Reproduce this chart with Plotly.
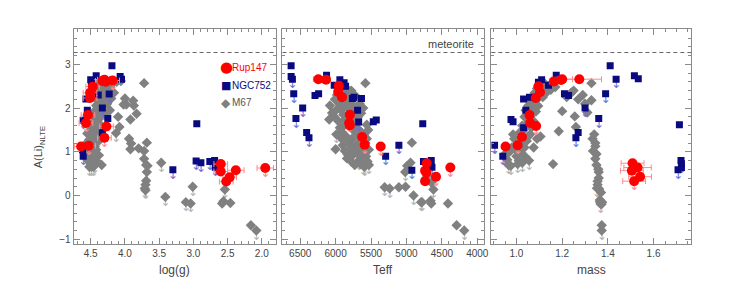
import plotly.graph_objects as go
from plotly.subplots import make_subplots

METEORITE = 3.27
Y_RANGE = [-1.11, 3.81]
X_RANGES = [[4.75, 1.80], [6750, 3900], [0.89, 1.765]]
X_TITLES = ["log(g)", "Teff", "mass"]
X_DTICK = [0.5, 500, 0.2]
X_MINOR = [0.1, 100, 0.05]
X_FMT = [".1f", "d", ".1f"]
Y_TITLE = "A(Li)<sub>NLTE</sub>"

# ---------------- Panel 1 : log(g) ----------------
RUP_G_X = [4.64, 4.53, 4.57, 4.54, 4.51, 4.51, 4.47, 4.33, 4.30, 4.28, 4.18, 4.27, 4.30,
           2.60, 2.60, 2.52, 2.47, 2.38, 1.95]
RUP_G_Y = [1.12, 1.14, 1.66, 1.84, 2.23, 2.35, 2.49, 2.62, 2.65, 2.60, 2.63, 1.58, 1.32,
           0.72, 0.55, 0.32, 0.42, 0.58, 0.63]
RUP_G_UL = [0, 1, 1, 0, 0, 0, 0, 0, 0, 0, 1, 0, 1,
            0, 0, 0, 0, 0, 1]
RUP_G_ERR = [0.10, 0.10, 0.10, 0.10, 0.10, 0.10, 0.10, 0.10, 0.10, 0.10, 0.10, 0.10, 0.10,
             0.10, 0.10, 0.10, 0.10, 0.12, 0.12]

NGC_G_X = [4.19, 4.42, 4.50, 4.49, 4.07, 4.05, 4.57, 4.55, 4.61, 4.61, 4.39, 4.23, 4.33,
           4.25, 4.33, 4.62, 2.95, 2.96, 2.89, 3.30, 2.76, 2.69, 2.68]
NGC_G_Y = [2.97, 2.74, 2.65, 2.57, 2.72, 2.66, 2.21, 1.95, 1.72, 0.90, 2.30, 2.32, 2.00,
           1.76, 1.44, 1.05, 1.64, 0.79, 0.75, 0.59, 0.78, 0.80, 0.65]
NGC_G_UL = [0, 0, 0, 1, 0, 0, 0, 0, 1, 1, 0, 1, 1,
            0, 1, 1, 0, 1, 1, 1, 1, 0, 1]

M67_G_X = [4.52, 4.49, 4.46, 4.50, 4.47, 4.52, 4.45, 4.49, 4.46, 4.53, 4.48, 4.44, 4.50,
           4.46, 4.52, 4.42, 4.48, 4.55, 4.45, 4.50, 4.41, 4.47, 4.53, 4.43, 4.38, 4.46,
           4.40, 4.35, 4.44, 4.38, 4.32, 4.42, 4.36, 4.30, 4.40, 4.34, 4.27, 4.37, 4.31,
           4.24, 4.34, 4.28, 4.21, 4.31, 4.25, 4.18, 4.12, 4.06, 4.22, 4.28, 4.40, 4.44,
           4.48, 4.26, 4.20, 4.16, 4.22, 4.28, 4.36, 4.40, 4.38, 4.42, 4.38, 4.42, 4.34,
           4.55, 4.56, 4.58, 4.44, 4.36, 4.10, 4.08, 4.13, 4.02,
           3.72, 3.88, 3.98, 4.00, 3.87, 3.83, 3.92, 3.94, 3.91, 3.92, 3.80, 3.68, 3.72,
           3.72, 3.69, 3.67, 3.68, 3.69, 3.70, 3.71, 3.70, 3.47, 3.41, 3.11, 3.04, 3.01,
           2.54, 2.56, 2.58, 2.46, 2.16, 2.08]
M67_G_Y = [0.66, 0.66, 0.66, 0.72, 0.78, 0.84, 0.88, 0.93, 1.00, 1.03, 1.08, 1.12, 1.18,
           1.24, 1.28, 1.33, 1.38, 1.42, 1.46, 1.52, 1.56, 1.62, 1.66, 1.70, 1.75, 1.80,
           1.86, 1.90, 1.94, 1.98, 2.03, 2.06, 2.10, 2.14, 2.18, 2.22, 2.25, 2.30, 2.34,
           2.37, 2.42, 2.46, 2.48, 2.52, 2.55, 2.57, 2.60, 2.62, 2.62, 2.60, 2.55, 2.40,
           2.25, 2.10, 2.22, 2.35, 1.95, 1.82, 1.62, 1.45, 1.25, 1.05, 0.92, 0.80, 0.70,
           0.82, 1.20, 0.95, 0.72, 1.42, 1.80, 1.57, 1.43, 2.08,
           2.57, 2.17, 2.08, 2.22, 2.06, 1.87, 1.74, 1.30, 1.19, 1.06, 1.08, 1.21, 1.02,
           0.84, 0.70, 0.68, 0.54, 0.34, 0.25, 0.16, 0.12, 0.75, -0.03, -0.15, -0.18, 0.20,
           0.14, -0.13, -0.18, -0.17, -0.68, -0.80]
M67_G_UL = [1, 1, 1, 0, 0, 0, 0, 0, 0, 0, 0, 0, 0,
            0, 0, 0, 0, 0, 0, 0, 0, 0, 0, 0, 0, 0,
            0, 0, 0, 0, 0, 0, 0, 0, 0, 0, 0, 0, 0,
            0, 0, 0, 0, 0, 0, 0, 0, 0, 0, 0, 0, 0,
            0, 0, 0, 0, 0, 0, 0, 0, 0, 0, 0, 0, 0,
            0, 0, 0, 1, 1, 0, 0, 1, 0,
            0, 0, 0, 0, 0, 0, 0, 0, 0, 0, 0, 0, 0,
            0, 0, 1, 1, 0, 1, 1, 1, 1, 1, 1, 1, 1,
            1, 0, 0, 0, 0, 1]

# ---------------- Panel 2 : Teff ----------------
RUP_T_X = [6244, 6136, 5954, 5964, 5910, 5799, 5808, 5799, 5626, 5590, 5364,
           4714, 4737, 4718, 4737, 4583, 4381]
RUP_T_Y = [2.66, 2.65, 2.51, 2.37, 2.25, 1.85, 1.66, 1.60, 1.34, 1.16, 1.12,
           0.74, 0.57, 0.53, 0.33, 0.43, 0.64]
RUP_T_UL = [0, 0, 0, 0, 0, 0, 1, 0, 0, 1, 1,
            0, 0, 0, 0, 1, 1]
RUP_T_ERR = [70, 60, 40, 40, 40, 40, 40, 40, 40, 40, 40,
             40, 40, 40, 40, 40, 40]

NGC_T_X = [6628, 6628, 6610, 6591, 6465, 6560, 6409, 6376, 6291, 6240, 6128, 5940, 6020,
           5880, 5860, 5763, 5740, 5635, 5690, 5675, 5468, 5426, 5107, 5294, 4924, 4770,
           4760, 4650, 4640]
NGC_T_Y = [2.97, 2.72, 2.66, 2.33, 2.00, 1.76, 1.44, 1.32, 2.29, 2.33, 2.75, 2.65, 2.52,
           2.58, 2.50, 2.22, 2.25, 2.22, 1.95, 1.68, 1.69, 1.73, 1.15, 0.90, 0.58, 1.64,
           0.78, 0.80, 0.65]
NGC_T_UL = [0, 0, 1, 1, 1, 1, 0, 1, 0, 0, 0, 0, 0,
            0, 1, 0, 0, 0, 0, 1, 0, 0, 1, 1, 1, 0,
            0, 0, 1]

M67_T_X = [6090, 6080, 6050, 6020, 6000, 5990, 5920, 5830, 5730, 5610, 5590, 5530, 5580,
           5610, 5960, 5930, 5900, 5880, 5860, 5840, 5820, 5800, 5780, 5760, 5900, 5870,
           5850, 5830, 5810, 5790, 5770, 5750, 5730, 5710, 5690, 5950, 5920, 5890, 5860,
           5830, 5800, 5780, 5760, 5740, 5720, 5700, 5680, 5660, 5640, 5620, 5600, 5580,
           5560, 5960, 5940, 5910, 5880, 5850, 5820, 5790, 5770, 5750, 5720, 5700, 5680,
           5660, 5640, 5620, 5600, 5570, 5550, 5530, 5900, 5870, 5840, 5810, 5780, 5760,
           5650, 5670, 5700, 5980, 6010, 5995, 5720, 5660, 5640, 5560, 5540,
           5308, 5237, 5107, 5018, 4990, 4943, 4924, 4900, 5013, 4794, 4780, 4710, 4650,
           4620, 4660, 4650, 4414, 4292, 4185]
M67_T_Y = [1.74, 2.06, 1.89, 1.81, 1.06, 1.40, 1.31, 0.94, 0.70, 0.68, 0.66, 0.70, 2.57,
           2.00, 2.48, 2.42, 2.50, 2.38, 2.30, 2.44, 2.35, 2.26, 2.40, 2.18, 2.20, 2.12,
           2.05, 2.15, 1.98, 2.08, 1.92, 2.02, 1.85, 1.95, 1.78, 2.10, 1.95, 1.85, 1.75,
           1.65, 1.80, 1.55, 1.70, 1.48, 1.60, 1.42, 1.52, 1.35, 1.45, 1.28, 1.38, 1.20,
           1.30, 1.70, 1.55, 1.45, 1.60, 1.35, 1.25, 1.15, 1.30, 1.10, 1.00, 1.18, 0.95,
           1.08, 0.88, 1.00, 0.82, 0.90, 0.78, 1.05, 1.15, 1.02, 0.85, 1.05, 0.78, 0.92,
           0.72, 0.80, 0.75, 2.30, 2.20, 1.95, 2.28, 2.10, 1.88, 1.62, 1.50,
           0.19, 0.16, 0.19, 0.54, 0.68, 0.75, 1.21, 0.00, 0.20, -0.15, -0.15, 0.45, 0.30,
           0.14, -0.12, -0.18, -0.18, -0.68, -0.80]
M67_T_UL = [0, 0, 0, 0, 0, 1, 0, 0, 0, 1, 1, 1, 0,
            0, 0, 0, 0, 0, 0, 0, 0, 0, 0, 0, 0, 0,
            0, 0, 0, 0, 0, 0, 0, 0, 0, 0, 0, 0, 0,
            0, 0, 0, 0, 0, 0, 0, 0, 0, 0, 0, 0, 0,
            0, 0, 0, 0, 0, 0, 0, 0, 0, 0, 0, 0, 0,
            0, 0, 0, 0, 0, 0, 0, 0, 0, 0, 0, 0, 0,
            0, 1, 0, 0, 0, 0, 0, 0, 0, 0, 0,
            1, 1, 0, 1, 0, 0, 0, 1, 0, 1, 1, 0, 0,
            1, 0, 0, 0, 0, 1]

# ---------------- Panel 3 : mass ----------------
RUP_M_X = [0.952, 1.005, 1.024, 1.057, 1.060, 1.086, 1.084, 1.096, 1.103, 1.164, 1.200,
           1.195, 1.275, 1.508, 1.505, 1.530, 1.541, 1.515]
RUP_M_Y = [1.12, 1.15, 1.34, 1.84, 1.66, 1.59, 2.23, 2.50, 2.36, 2.61, 2.66,
           2.64, 2.66, 0.74, 0.57, 0.64, 0.43, 0.33]
RUP_M_UL = [0, 1, 0, 0, 0, 1, 0, 0, 0, 0, 0,
            0, 0, 0, 0, 0, 0, 1]
RUP_M_ERR = [0.012, 0.012, 0.012, 0.012, 0.012, 0.012, 0.012, 0.012, 0.012, 0.02, 0.045,
             0.02, 0.097, 0.05, 0.05, 0.06, 0.05, 0.05]

NGC_M_X = [0.904, 0.940, 0.976, 0.985, 1.031, 1.041, 1.031, 1.057, 1.096, 1.110, 1.140,
           1.174, 1.210, 1.228, 1.300, 1.270, 1.260, 1.360, 1.390, 1.410, 1.436, 1.516,
           1.533, 1.713, 1.720, 1.722, 1.707, 1.722]
NGC_M_Y = [1.15, 0.90, 1.74, 1.69, 2.21, 1.95, 1.55, 2.25, 2.59, 2.65, 2.52,
           2.75, 2.33, 2.29, 2.00, 1.44, 1.32, 1.76, 2.33, 2.97, 2.66, 2.74,
           2.67, 1.62, 0.80, 0.73, 0.59, 0.64]
NGC_M_UL = [1, 1, 0, 0, 0, 0, 1, 0, 0, 0, 0,
            0, 0, 0, 1, 0, 1, 1, 1, 0, 1, 0,
            0, 0, 0, 1, 1, 0]

M67_M_X = [0.950, 0.960, 0.965, 0.975, 0.985, 0.990, 0.995, 1.000, 1.005, 1.010, 1.015,
           1.020, 1.025, 1.030, 1.035, 1.040, 1.045, 1.050, 1.055, 1.060, 1.065, 1.070,
           1.075, 1.080, 1.085, 1.090, 1.095, 1.100, 1.105, 1.110, 1.115, 1.120, 1.130,
           1.140, 1.150, 1.160, 1.170, 1.090, 1.070, 1.060, 1.050, 1.040, 1.080, 1.100,
           1.120, 1.035, 1.025, 1.015, 1.000, 0.980, 0.970, 1.045, 1.060, 1.075, 1.090,
           1.200, 1.255, 1.260, 1.185, 1.160, 1.240, 1.220, 1.270, 1.250, 1.290, 1.300,
           1.328, 1.328, 1.310,
           1.333, 1.345, 1.335, 1.345, 1.350, 1.360, 1.355, 1.355, 1.352, 1.362, 1.370,
           1.365, 1.375, 1.368, 1.373, 1.373, 1.340, 1.345, 1.350, 1.358, 1.360, 1.365,
           1.372]
M67_M_Y = [0.95, 0.82, 0.70, 0.68, 1.40, 1.30, 1.05, 0.90, 0.72, 0.80, 1.20,
           0.98, 0.75, 1.50, 1.10, 0.88, 1.65, 1.35, 0.80, 1.80, 1.55, 2.00,
           1.70, 2.10, 1.92, 2.20, 2.05, 2.30, 1.35, 2.40, 2.25, 2.45, 2.35,
           2.50, 2.42, 2.55, 2.48, 2.45, 2.25, 2.15, 2.05, 1.95, 2.35, 2.50,
           2.58, 1.80, 1.60, 1.45, 1.25, 1.10, 1.00, 1.25, 1.40, 1.10, 1.30,
           1.93, 1.81, 1.57, 1.47, 0.72, 2.35, 2.25, 2.20, 2.40, 2.30, 2.10,
           2.57, 2.18, 1.90,
           1.30, 1.13, 1.02, 0.84, 0.70, 0.54, 0.33, 0.25, 0.17, 0.15, 0.07,
           -0.14, -0.15, -0.19, -0.68, -0.80, 1.40, 1.20, 0.95, 0.60, 0.40, -0.10,
           -0.20]
M67_M_UL = [0, 0, 1, 1, 0, 0, 0, 0, 1, 0, 0,
            0, 1, 0, 0, 0, 0, 0, 1, 0, 0, 0,
            0, 0, 0, 0, 0, 0, 0, 0, 0, 0, 0,
            0, 0, 0, 0, 0, 0, 0, 0, 0, 0, 0,
            0, 0, 0, 0, 0, 0, 0, 0, 0, 0, 0,
            0, 0, 0, 0, 0, 0, 0, 0, 0, 0, 0,
            0, 0, 0,
            0, 0, 0, 0, 0, 1, 0, 0, 1, 1, 1,
            0, 0, 1, 0, 1, 0, 0, 0, 0, 0, 0,
            0]

LEGEND = ["Rup147", "NGC752", "M67"]

RED, NAVY, GREY = "#ff0000", "#0a0a80", "#808080"
RED_L, NAVY_L, GREY_L = "#ff8a8a", "#6f6fd8", "#b4b4b4"
AXC = "#8a8a8a"
TXT = "#444444"
FONT = "Liberation Sans"

W, H = 747, 281
XDOM = [[74 / W, 277 / W], [284 / W, 487 / W], [494 / W, 695 / W]]
YDOM = [1 - 245 / H, 1 - 29 / H]

fig = make_subplots(rows=1, cols=3)


def add_group(col, x, y, ul, color, acolor, symbol, size, err=None):
    ax = [a for a, u in zip(x, ul) if u]
    ay = [b for b, u in zip(y, ul) if u]
    fig.add_trace(go.Scatter(x=ax, y=ay, mode="text", text=["\u2193"] * len(ax),
                             textposition="bottom center",
                             textfont=dict(color=acolor, size=12, family="DejaVu Sans"),
                             showlegend=False, hoverinfo="skip"), row=1, col=col)
    kw = {}
    if err is not None:
        kw["error_x"] = dict(type="data", array=err, visible=True, color=RED_L,
                             thickness=1, width=3)
    fig.add_trace(go.Scatter(x=x, y=y, mode="markers",
                             marker=dict(color=color, symbol=symbol, size=size,
                                         line=dict(width=0)),
                             showlegend=False, **kw), row=1, col=col)


panels = [
    (M67_G_X, M67_G_Y, M67_G_UL, NGC_G_X, NGC_G_Y, NGC_G_UL, RUP_G_X, RUP_G_Y, RUP_G_UL, RUP_G_ERR),
    (M67_T_X, M67_T_Y, M67_T_UL, NGC_T_X, NGC_T_Y, NGC_T_UL, RUP_T_X, RUP_T_Y, RUP_T_UL, RUP_T_ERR),
    (M67_M_X, M67_M_Y, M67_M_UL, NGC_M_X, NGC_M_Y, NGC_M_UL, RUP_M_X, RUP_M_Y, RUP_M_UL, RUP_M_ERR),
]

for i, p in enumerate(panels):
    col = i + 1
    add_group(col, p[0], p[1], p[2], GREY, GREY_L, "diamond", 8)
    add_group(col, p[3], p[4], p[5], NAVY, NAVY_L, "square", 7)
    add_group(col, p[6], p[7], p[8], RED, RED_L, "circle", 10, err=p[9])

    axis_common = dict(showline=True, linecolor=AXC, linewidth=1, mirror="ticks",
                       ticks="inside", ticklen=6, tickcolor=AXC, tickwidth=1,
                       showgrid=False, zeroline=False,
                       tickfont=dict(family=FONT, size=10, color=TXT))
    fig.update_xaxes(range=X_RANGES[i], domain=XDOM[i], dtick=X_DTICK[i],
                     tickformat=X_FMT[i],
                     minor=dict(ticks="inside", ticklen=3, dtick=X_MINOR[i], tickcolor=AXC),
                     row=1, col=col, **axis_common)
    fig.update_yaxes(range=Y_RANGE, domain=YDOM, dtick=1,
                     minor=dict(ticks="inside", ticklen=3, dtick=0.2, tickcolor=AXC),
                     showticklabels=(i == 0), row=1, col=col, **axis_common)

    xref = "x" if i == 0 else f"x{col}"
    yref = "y" if i == 0 else f"y{col}"
    fig.add_shape(type="line", xref=f"{xref} domain", yref=yref, x0=0, x1=1,
                  y0=METEORITE, y1=METEORITE, line=dict(color="#666666", width=1, dash="4px,3px"))
    fig.add_annotation(xref=f"{xref} domain", yref="paper", x=0.5, y=1 - 271 / H,
                       text=X_TITLES[i], showarrow=False, xanchor="center", yanchor="middle",
                       font=dict(family=FONT, size=12, color=TXT))

fig.add_annotation(xref="x2 domain", yref="y2", x=0.956, y=METEORITE, xanchor="right",
                   yanchor="bottom", yshift=1, text="meteorite", showarrow=False,
                   font=dict(family=FONT, size=11, color=TXT))

fig.add_annotation(xref="paper", yref="paper", x=40 / W, y=1 - 148 / H, text=Y_TITLE,
                   textangle=-90, showarrow=False, xanchor="center", yanchor="middle",
                   font=dict(family=FONT, size=11, color=TXT))

leg_glyph = ["\u25CF", "\u25A0", "\u25C6"]
leg_col = [RED, NAVY, "#555555"]
leg_gcol = [RED, NAVY, GREY]
leg_size = [15, 11, 12]
leg_y = [67.7, 85.5, 103]
for k in range(3):
    fig.add_annotation(xref="paper", yref="paper", x=227.5 / W, y=1 - leg_y[k] / H,
                       text=leg_glyph[k], showarrow=False, xanchor="center", yanchor="middle",
                       font=dict(family="DejaVu Sans", size=leg_size[k], color=leg_gcol[k]))
    fig.add_annotation(xref="paper", yref="paper", x=231.5 / W, y=1 - leg_y[k] / H,
                       text=LEGEND[k], showarrow=False, xanchor="left", yanchor="middle",
                       font=dict(family=FONT, size=10, color=leg_col[k]))

fig.update_layout(width=W, height=H, margin=dict(l=0, r=0, t=0, b=0),
                  paper_bgcolor="white", plot_bgcolor="white", showlegend=False)

fig.write_html("out.html", config={"displayModeBar": False},
               post_script="document.body.style.margin='0';document.body.style.overflow='hidden';")
